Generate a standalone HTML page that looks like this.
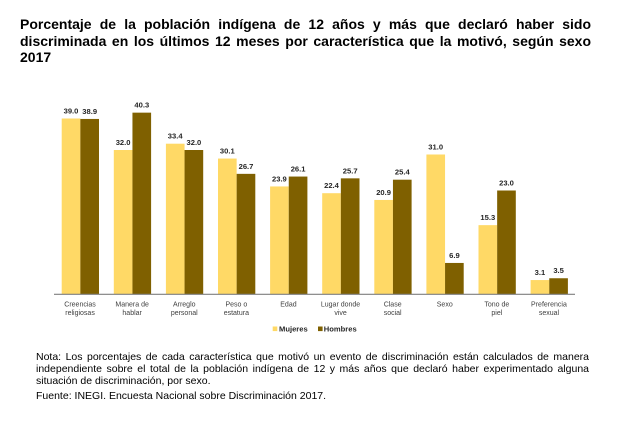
<!DOCTYPE html>
<html>
<head>
<meta charset="utf-8">
<style>
  html, body { margin:0; padding:0; background:#ffffff; }
  body { width:619px; height:423px; position:relative; overflow:hidden; font-family:"Liberation Sans", Arial, sans-serif; }
  .t { position:absolute; left:20px; width:571px; font-weight:bold; font-size:14px; line-height:16.5px; color:#000; white-space:nowrap; }
  .j { text-align:justify; text-align-last:justify; white-space:normal; }
  .n { position:absolute; left:36px; width:553px; font-size:10.5px; line-height:12px; color:#000; white-space:nowrap; }
  svg { position:absolute; left:0; top:0; }
</style>
</head>
<body>
<div class="t j" style="top:16.2px;">Porcentaje de la población indígena de 12 años y más que declaró haber sido</div>
<div class="t j" style="top:32.7px;">discriminada en los últimos 12 meses por característica que la motivó, según sexo</div>
<div class="t" style="top:49.2px;">2017</div>

<svg width="619" height="423" viewBox="0 0 619 423" xmlns="http://www.w3.org/2000/svg" font-family="Liberation Sans, Arial, sans-serif">
  <g fill="#FFD966">
    <rect x="61.7" y="118.5" width="18.65" height="175.5"/>
    <rect x="113.8" y="150" width="18.65" height="144"/>
    <rect x="165.9" y="143.7" width="18.65" height="150.3"/>
    <rect x="218.0" y="158.55" width="18.65" height="135.45"/>
    <rect x="270.1" y="186.45" width="18.65" height="107.55"/>
    <rect x="322.2" y="193.2" width="18.65" height="100.8"/>
    <rect x="374.3" y="199.95" width="18.65" height="94.05"/>
    <rect x="426.4" y="154.5" width="18.65" height="139.5"/>
    <rect x="478.5" y="225.15" width="18.65" height="68.85"/>
    <rect x="530.6" y="280.05" width="18.65" height="13.95"/>
  </g>
  <g fill="#7F6000">
    <rect x="80.35" y="118.95" width="18.65" height="175.05"/>
    <rect x="132.45" y="112.65" width="18.65" height="181.35"/>
    <rect x="184.55" y="150" width="18.65" height="144"/>
    <rect x="236.65" y="173.85" width="18.65" height="120.15"/>
    <rect x="288.75" y="176.55" width="18.65" height="117.45"/>
    <rect x="340.85" y="178.35" width="18.65" height="115.65"/>
    <rect x="392.95" y="179.7" width="18.65" height="114.3"/>
    <rect x="445.05" y="262.95" width="18.65" height="31.05"/>
    <rect x="497.15" y="190.5" width="18.65" height="103.5"/>
    <rect x="549.25" y="278.25" width="18.65" height="15.75"/>
  </g>
  <line x1="54" y1="294.3" x2="575" y2="294.3" stroke="#7f7f7f" stroke-width="1.2"/>

  <g font-size="7.6" font-weight="bold" fill="#262626" text-anchor="middle">
    <text x="71.0" y="113.5">39.0</text>
    <text x="89.7" y="114">38.9</text>
    <text x="123.1" y="145">32.0</text>
    <text x="141.8" y="107.6">40.3</text>
    <text x="175.2" y="138.7">33.4</text>
    <text x="193.9" y="145">32.0</text>
    <text x="227.3" y="153.5">30.1</text>
    <text x="246.0" y="168.8">26.7</text>
    <text x="279.4" y="181.4">23.9</text>
    <text x="298.1" y="171.5">26.1</text>
    <text x="331.5" y="188.2">22.4</text>
    <text x="350.2" y="173.3">25.7</text>
    <text x="383.6" y="194.9">20.9</text>
    <text x="402.3" y="174.7">25.4</text>
    <text x="435.7" y="149.5">31.0</text>
    <text x="454.4" y="257.9">6.9</text>
    <text x="487.8" y="220.1">15.3</text>
    <text x="506.5" y="185.5">23.0</text>
    <text x="539.9" y="275">3.1</text>
    <text x="558.6" y="273.2">3.5</text>
  </g>

  <g font-size="7" fill="#404040" text-anchor="middle">
    <text x="80.05" y="306.3">Creencias</text><text x="80.05" y="315">religiosas</text>
    <text x="132.15" y="306.3">Manera de</text><text x="132.15" y="315">hablar</text>
    <text x="184.25" y="306.3">Arreglo</text><text x="184.25" y="315">personal</text>
    <text x="236.35" y="306.3">Peso o</text><text x="236.35" y="315">estatura</text>
    <text x="288.45" y="306.3">Edad</text>
    <text x="340.55" y="306.3">Lugar donde</text><text x="340.55" y="315">vive</text>
    <text x="392.65" y="306.3">Clase</text><text x="392.65" y="315">social</text>
    <text x="444.75" y="306.3">Sexo</text>
    <text x="496.85" y="306.3">Tono de</text><text x="496.85" y="315">piel</text>
    <text x="548.95" y="306.3">Preferencia</text><text x="548.95" y="315">sexual</text>
  </g>

  <rect x="272.7" y="326.5" width="4.6" height="4.6" fill="#FFD966"/>
  <text x="279" y="331.6" font-size="7.6" font-weight="bold" fill="#262626">Mujeres</text>
  <rect x="318" y="326.5" width="4.6" height="4.6" fill="#7F6000"/>
  <text x="323.8" y="331.6" font-size="7.6" font-weight="bold" fill="#262626">Hombres</text>
</svg>

<div class="n j" style="top:351.2px;">Nota: Los porcentajes de cada característica que motivó un evento de discriminación están calculados de manera</div>
<div class="n j" style="top:363.2px;">independiente sobre el total de la población indígena de 12 y más años que declaró haber experimentado alguna</div>
<div class="n" style="top:375.2px;">situación de discriminación, por sexo.</div>
<div class="n" style="top:389.5px;">Fuente: INEGI. Encuesta Nacional sobre Discriminación 2017.</div>
</body>
</html>
